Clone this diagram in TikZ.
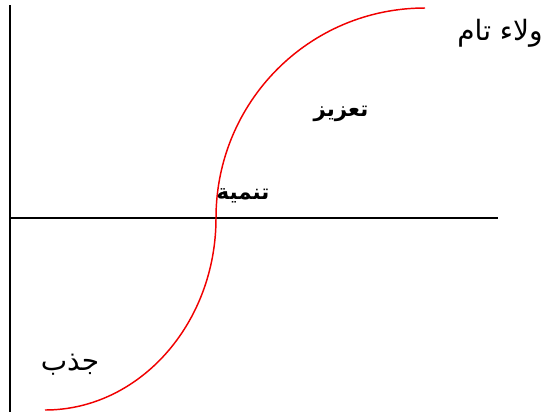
\documentclass[tikz,border=0pt]{standalone}
\usepackage{fontspec}
\newfontfamily\arabicfont[Script=Arabic]{DejaVu Sans}
\TeXXeTstate=1
\usetikzlibrary{positioning}
\definecolor{curveRed}{RGB}{240, 0, 0}

\begin{document}
\begin{tikzpicture}[
  x=0.75pt, y=-0.75pt,
  axis/.style={line width=1.1pt, black},
  scurve/.style={line width=1.1pt, color=curveRed},
  lbl/.style={font=\arabicfont\fontsize{21}{24}\selectfont, inner sep=1pt},
  lblb/.style={lbl, font=\arabicfont\bfseries\fontsize{16}{19}\selectfont},
]
\useasboundingbox (0,0) rectangle (546,412);

%% ── Axes ─────────────────────────────────────────────────────────────────────
\coordinate (VT) at (10, 5);
\coordinate (VB) at (10, 412);
\coordinate (HL) at (10, 218);
\coordinate (HR) at (498, 218);
\draw[axis] (VT) -- (VB);
\draw[axis] (HL) -- (HR);

%% ── S-curve ──────────────────────────────────────────────────────────────────
\coordinate (C0) at (45, 410);
\coordinate (C1) at (216, 218);
\coordinate (C2) at (425, 8);
\draw[scurve] (C0) .. controls (139, 410) and (216, 324) .. (C1)
                   .. controls (216, 102) and (309, 8) .. (C2);

%% ── Stage labels ─────────────────────────────────────────────────────────────
\node[lbl]  (LOY) at (500, 33)  {\beginR ولاء تام\endR};
\node[lblb] (REI) at (341, 114) {\beginR تعزيز\endR};
\node[lblb] (DEV) at (243, 196) {\beginR تنمية\endR};
\node[lbl]  (ATT) at (70, 365)  {\beginR جذب\endR};

\end{tikzpicture}
\end{document}
